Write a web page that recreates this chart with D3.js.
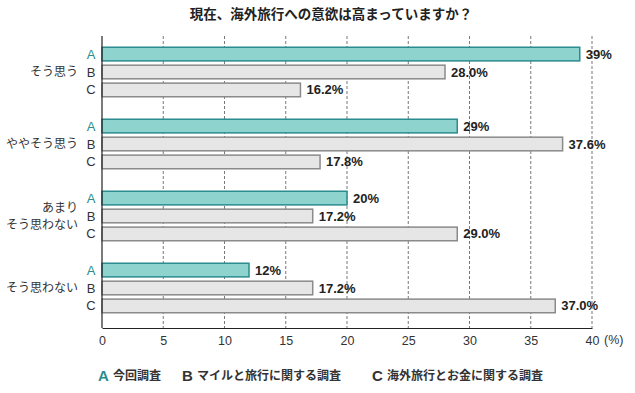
<!DOCTYPE html>
<html>
<head>
<meta charset="utf-8">
<script src="https://cdn.jsdelivr.net/npm/d3@7"></script>
<style>
  body { margin: 0; background: #fff; }
  text { font-family: "Noto Sans CJK JP", "Noto Sans", sans-serif; }
  .val { font-family: "Liberation Sans Narrow", "Liberation Sans", Arial, sans-serif; font-weight: bold; }
  .num { font-family: "Liberation Sans Narrow", "Liberation Sans", Arial, sans-serif; }
</style>
</head>
<body>
<svg id="chart" width="635" height="393"></svg>
<script>
// --- Data ---
const categories = ['そう思う', 'ややそう思う', 'あまり\nそう思わない', 'そう思わない'];
const surveys = ['A', 'B', 'C'];
const valuesA = [39, 29, 20, 12];
const valuesB = [28.0, 37.6, 17.2, 17.2];
const valuesC = [16.2, 17.8, 29.0, 37.0];
const legendLabels = ['今回調査', 'マイルと旅行に関する調査', '海外旅行とお金に関する調査'];
const xTicks = [0, 5, 10, 15, 20, 25, 30, 35, 40];

const series = { A: valuesA, B: valuesB, C: valuesC };
// A is shown without decimals, B and C with one
const fmt = { A: d => d + '%', B: d => d.toFixed(1) + '%', C: d => d.toFixed(1) + '%' };

const svg = d3.select('#chart');
const plotLeft = 102, plotRight = 592, plotTop = 36, plotBottom = 328;

const x = d3.scaleLinear().domain([0, 40]).range([plotLeft, plotRight]);
const y = d3.scaleBand().domain(categories).range([plotTop, 324]);
const inner = d3.scaleBand().domain(surveys).range([-24.75, 24.75]).paddingInner(0.24).paddingOuter(0);

const teal = '#2a8c8e';

// title
svg.append('text')
  .attr('x', 331).attr('y', 19)
  .attr('text-anchor', 'middle')
  .attr('font-size', 13.5).attr('font-weight', 'bold').attr('fill', '#222')
  .text('現在、海外旅行への意欲は高まっていますか？');

// grid lines
svg.append('g').selectAll('line')
  .data(xTicks.slice(1))
  .enter().append('line')
  .attr('x1', d => x(d)).attr('x2', d => x(d))
  .attr('y1', plotTop).attr('y2', plotBottom)
  .attr('stroke', '#555').attr('stroke-width', 0.8)
  .attr('stroke-dasharray', '3,2');

// bars
const groups = svg.append('g').selectAll('g')
  .data(categories)
  .enter().append('g')
  .attr('transform', d => `translate(0,${y(d) + y.bandwidth() / 2})`);

groups.each(function(cat, i) {
  const g = d3.select(this);
  surveys.forEach(s => {
    const v = series[s][i];
    g.append('rect')
      .attr('x', x(0))
      .attr('y', inner(s))
      .attr('width', x(v) - x(0))
      .attr('height', inner.bandwidth())
      .attr('fill', s === 'A' ? '#8fd3cf' : '#e6e6e6')
      .attr('stroke', s === 'A' ? teal : '#8a8a8a')
      .attr('stroke-width', 1.5);

    g.append('text')
      .attr('class', 'val')
      .attr('x', x(v) + 6)
      .attr('y', inner(s) + inner.bandwidth() / 2 + 4.5)
      .attr('font-size', 13).attr('fill', '#222')
      .text(fmt[s](v));

    g.append('text')
      .attr('class', 'num')
      .attr('x', 91)
      .attr('y', inner(s) + inner.bandwidth() / 2 + 4.5)
      .attr('text-anchor', 'middle')
      .attr('font-size', 13)
      .attr('fill', s === 'A' ? teal : '#333')
      .text(s);
  });

  // category label, may be two lines
  const lines = cat.split('\n');
  g.append('text')
    .attr('x', 78)
    .attr('text-anchor', 'end')
    .attr('font-size', 12).attr('fill', '#333')
    .selectAll('tspan')
    .data(lines)
    .enter().append('tspan')
    .attr('x', 78)
    .attr('y', (d, j) => 4 + (j - (lines.length - 1) / 2) * 17)
    .text(d => d);
});

// axes
svg.append('line')
  .attr('x1', plotLeft).attr('x2', plotLeft)
  .attr('y1', plotTop).attr('y2', plotBottom)
  .attr('stroke', '#222').attr('stroke-width', 1.2);

const xAxis = svg.append('g')
  .attr('transform', `translate(0,${plotBottom})`)
  .call(d3.axisBottom(x).tickValues(xTicks).tickSize(0).tickPadding(8));
xAxis.select('.domain').attr('stroke', '#222').attr('stroke-width', 1.2);
xAxis.selectAll('text')
  .attr('class', 'num')
  .attr('font-size', 12.5).attr('fill', '#333');

svg.append('text')
  .attr('class', 'num')
  .attr('x', 604).attr('y', plotBottom + 16)
  .attr('font-size', 12.5).attr('fill', '#333')
  .text('(%)');

// legend
const legendX = [98, 182, 372];
surveys.forEach((s, i) => {
  svg.append('text')
    .attr('class', 'num')
    .attr('x', legendX[i]).attr('y', 381)
    .attr('font-size', 15).attr('font-weight', 'bold')
    .attr('fill', s === 'A' ? teal : '#333')
    .text(s);
  svg.append('text')
    .attr('x', legendX[i] + 15).attr('y', 380)
    .attr('font-size', 12).attr('font-weight', 'bold').attr('fill', '#333')
    .text(legendLabels[i]);
});
</script>
</body>
</html>
